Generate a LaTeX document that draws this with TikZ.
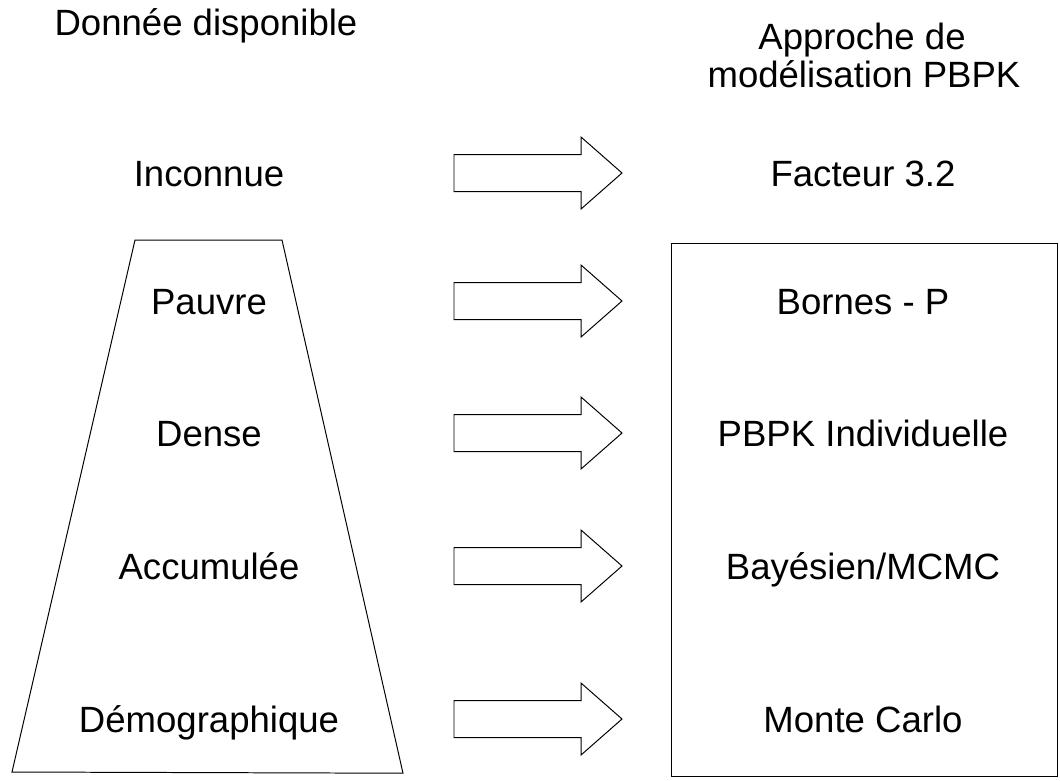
\documentclass[tikz,border=0pt]{standalone}
\usepackage{fontspec}
\setmainfont{Liberation Sans}
\usepackage{tikz}
\tikzset{
  lbl/.style={anchor=base, inner sep=0pt, font=\fontsize{26}{31}\selectfont},
  hollowarrow/.style={draw, line join=miter}
}

\begin{document}
\begin{tikzpicture}[line width=0.7pt]
      \useasboundingbox (0cm,0cm) rectangle (26.5cm,-19.5cm);
      % column headers
      \node[lbl] (donnee) at (5.15cm,-0.875cm) {Donnée disponible};
      \node[lbl] (approche) at (21.55cm,-1.225cm) {Approche de};
      \node[lbl] (modelisation) at (21.6cm,-2.175cm) {modélisation PBPK};
      % pyramid of the data and frame of the approaches
      \draw (3.375cm,-6cm) -- (7.05cm,-6cm) -- (10.075cm,-19.33cm) -- (0.3cm,-19.3cm) -- cycle;
      \draw (16.775cm,-6.075cm) rectangle (26.425cm,-19.4cm);
      % one row per kind of data: label, hollow arrow, approach
      \foreach \y/\dat/\app [count=\i] in {-4.325/Inconnue/{Facteur 3.2},
                                         -7.525/Pauvre/{Bornes - P},
                                         -10.825/Dense/{PBPK Individuelle},
                                         -14.15/Accumulée/{Bayésien/MCMC},
                                         -17.975/Démographique/{Monte Carlo}}{
        \node[lbl] (data\i) at (5.225cm,\y cm-0.325cm) {\dat};
        \node[lbl] (appr\i) at (21.575cm,\y cm-0.325cm) {\app};
        \draw[hollowarrow, yshift=\y cm] (11.35cm,0.4625cm) -- (14.525cm,0.4625cm) -- (14.525cm,0.9cm)
          -- (15.55cm,0cm) -- (14.525cm,-0.9cm) -- (14.525cm,-0.4625cm) -- (11.35cm,-0.4625cm) -- cycle;
      }
    \end{tikzpicture}
\end{document}
